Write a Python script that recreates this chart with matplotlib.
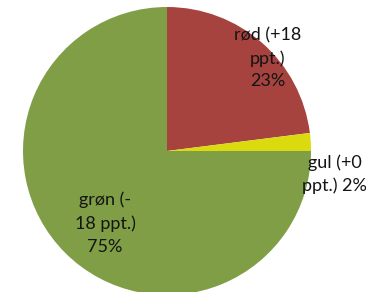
import matplotlib
matplotlib.use("Agg")
import matplotlib.pyplot as plt

categories = ["rød", "gul", "grøn"]
shares = [23, 2, 75]
changes = ["+18", "+0", "-18"]
colors = ["#a6433f", "#dada0e", "#7f9e45"]

W, H = 370, 292
fig = plt.figure(figsize=(W / 100, H / 100), dpi=100)
cx, cy, r = 167, 151, 144
ax = fig.add_axes([(cx - r) / W, (H - cy - r) / H, 2 * r / W, 2 * r / H])
ax.pie(shares, colors=colors, startangle=90, counterclock=False, radius=1,
       wedgeprops=dict(linewidth=0))
ax.set_xlim(-1, 1)
ax.set_ylim(-1, 1)
ax.set_aspect("equal")
ax.axis("off")

labels = [
    f"{categories[0]} ({changes[0]}\nppt.)\n{shares[0]}%",
    f"{categories[1]} ({changes[1]}\nppt.) {shares[1]}%",
    f"{categories[2]} ({changes[2][0]}\n{changes[2][1:]} ppt.)\n{shares[2]}%",
]
pos = [(0.70, 0.645), (1.165, -0.16), (-0.43, -0.50)]
spacing = [1.5, 1.45, 1.55]
for lab, (x, y), ls in zip(labels, pos, spacing):
    ax.text(x, y, lab, ha="center", va="center", fontsize=13, family="Lato",
            color="#141414", linespacing=ls, clip_on=False)

fig.savefig("out.png", dpi=100)
